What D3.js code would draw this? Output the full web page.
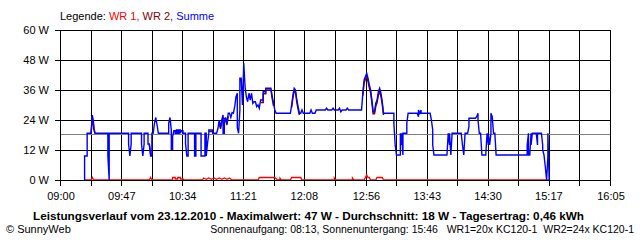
<!DOCTYPE html>
<html>
<head>
<meta charset="utf-8">
<script src="https://cdn.jsdelivr.net/npm/d3@7"></script>
<style>
	body { margin: 0; background: #fff; }
	svg { display: block; font-family: "Liberation Sans", Arial, sans-serif; font-size: 11px; }
</style>
</head>
<body>
<div id="chart"></div>
<script>
// Werte (Uhrzeit, Watt)
const zeitraum = ["09:00", "16:05"];
const zeitLabels = ["09:00", "09:47", "10:34", "11:21", "12:08", "12:56", "13:43", "14:30", "15:17", "16:05"];
const wattTicks = [0, 12, 24, 36, 48, 60];
const durchschnitt = 18;

const summe = [
	["09:19",0],["09:19",9.6],["09:21",9.6],["09:21",18.7],["09:24",18.7],["09:25",26],["09:26",22.5],["09:26",20.5],["09:27",18.7],
	["09:37",18.7],["09:37",9.6],["09:38",0],["09:38",18.7],
	["09:53",18.7],["09:53",14.4],["09:54",9.6],["09:55",14.4],["09:55",18.7],
	["10:03",18.7],["10:03",14.4],["10:04",9.6],["10:05",14.4],["10:05",18.7],
	["10:08",18.7],["10:08",14.4],["10:09",14.4],["10:10",9.6],["10:11",9.6],["10:11",18.7],
	["10:12",18.7],["10:13",22.7],["10:14",25],["10:15",22],["10:16",18.7],
	["10:24",18.7],["10:24",22.7],["10:25",25],["10:26",20],["10:26",12.3],["10:27",12.3],["10:27",17.3],["10:28",19.7],
	["10:29",19.7],["10:29",18.7],["10:30",18.7],["10:30",20],["10:31",20],["10:31",18.7],["10:32",18.7],["10:32",20],["10:33",20],["10:33",18.7],["10:34",19.7],["10:35",19.7],["10:35",18.7],
	["10:37",18.7],["10:37",14.7],["10:38",9.6],["10:39",9.6],["10:39",18.7],
	["10:44",18.7],["10:44",9.6],["10:45",9.6],["10:45",18.7],
	["10:49",18.7],["10:49",9.6],["10:52",9.6],["10:52",18.7],["10:53",18.7],["10:53",9.6],["10:54",14.7],["10:55",18.7],["10:55",20],["10:58",20],["10:58",18.7],
	["11:01",18.7],["11:02",20.5],["11:03",24],["11:04",21],["11:05",24],["11:06",26],["11:06",18.7],["11:07",18.7],["11:07",23],["11:08",25],["11:09",22.5],["11:10",26.7],["11:11",26.7],["11:12",25],["11:13",27],["11:14",26.7],
	["11:15",29.3],["11:16",33.3],["11:17",34.7],["11:17",21],["11:18",18.7],["11:19",28],["11:19",40.7],["11:20",40.7],["11:21",30],["11:22",46.7],["11:23",37.3],["11:24",33.3],["11:25",31.3],["11:26",34.7],["11:27",32],["11:28",34.7],["11:29",30.7],["11:30",31.3],["11:31",31.3],["11:32",29.3],["11:33",30],["11:34",28.7],["11:35",32],["11:37",32],["11:37",35.3],["11:39",35.3],["11:39",36.7],["11:43",36.7],["11:44",33.3],["11:45",30.7],["11:46",28],["11:47",26.7],
	["11:58",26.7],["11:59",30],["12:00",34],["12:01",36.7],["12:02",36],["12:03",32],["12:04",29.3],["12:05",26.7],["12:06",26.7],["12:07",28],["12:08",26.7],["12:13",26.7],["12:14",28],["12:15",26.7],["12:17",26.7],["12:18",28],
	["12:25",28],["12:26",28.7],["12:27",28],["12:30",28],["12:31",28.7],["12:32",28],["12:35",28],["12:36",28.7],["12:37",27.3],["12:38",28],["12:41",28],["12:42",28.7],["12:43",28],["12:53",28],
	["12:54",34.7],["12:55",40],["12:57",42.7],["12:58",40.7],["12:59",38],["13:00",36],["13:01",32],["13:02",27.3],["13:03",27.3],["13:04",30.7],["13:05",32],["13:06",35.3],["13:07",36.7],["13:08",34.7],["13:09",31.3],["13:10",26.7],["13:18",26.7],
	["13:18",22.7],["13:19",14],["13:20",10],["13:23",10],["13:23",18.7],["13:24",14],["13:24",18.7],["13:25",10],["13:25",18.7],["13:28",18.7],["13:28",22.7],["13:29",26.7],["13:36",26.7],["13:37",25.3],["13:37",28],["13:38",26.7],["13:39",28],["13:39",26.7],["13:46",26.7],["13:47",24],["13:48",20],["13:48",14],["13:49",10],
	["13:59",10],["14:00",18.7],["14:01",14],["14:01",18.7],["14:02",10],["14:03",18.7],["14:10",18.7],["14:11",14],["14:12",10],["14:13",18.7],["14:15",18.7],["14:16",21.3],["14:16",24.7],["14:21",24.7],["14:22",25.3],["14:23",26.7],["14:23",24],["14:24",18.7],["14:25",18.7],["14:26",10],["14:29",10],["14:30",18.7],["14:31",14],["14:31",18.7],["14:32",14],["14:33",18.7],["14:33",26.7],["14:34",25.3],["14:35",18.7],["14:36",18.7],["14:37",10],
	["15:01",10],["15:01",14],["15:02",18.7],["15:02",10],["15:03",10],["15:04",18.7],["15:04",14],["15:05",18.7],["15:08",18.7],["15:09",14],["15:09",18.7],["15:12",18.7],["15:13",14],["15:13",12],["15:14",10],["15:15",5.3],["15:16",0],["15:17",9.3],["15:17",18.7],["15:18",0]
];

// WR 2 liegt fast ueberall unter der Summe, nur die sichtbaren Stuecke (null = Luecke)
const wr2 = [
	["09:24",18.7],["09:25",25],["09:26",21.5],["09:27",18.7], null,
	["10:09",14.4],["10:10",10.5],["10:11",10.5], null,
	["10:55",19.4],["10:58",19.4], null,
	["11:03",23],["11:04",20.5],["11:05",23],["11:06",25],["11:08",24],["11:09",22],["11:10",25.5], null,
	["11:35",31],["11:37",31],["11:37",34.5],["11:39",34.5],["11:39",36],["11:43",36],["11:44",32.5],["11:45",29.7], null,
	["11:59",29],["12:00",33],["12:01",35.7],["12:02",35],["12:03",31],["12:04",28.3],["12:05",26], null,
	["12:54",33.7],["12:55",39],["12:57",41.5],["12:58",39.5],["12:59",37],["13:00",35],["13:01",31],["13:02",26.5],["13:03",26.5],["13:04",29.5],["13:05",31],["13:06",34],["13:07",35.5],["13:08",33.5],["13:09",30.3],["13:10",26]
];

const wr1 = [
	["09:19",0],["09:24",0],["09:25",1],["09:26",0],["10:09",0],["10:10",1],["10:11",0],
	["10:27",0],["10:27",1],["10:29",1],["10:29",0.4],["10:31",0.4],["10:31",1],["10:33",1],["10:33",0.4],["10:35",0.4],["10:36",0],
	["10:50",0],["10:51",0.8],["10:53",0.3],["10:55",0.8],["10:57",0.3],["10:59",0.8],["11:01",0.3],["11:03",0.8],["11:05",0.3],["11:07",0.8],["11:09",0.3],["11:11",0.8],["11:13",0],
	["11:33",0],["11:34",1],["11:46",1],["11:47",0.5],["11:48",0],["11:50",0],["11:50",0.7],["11:51",0],
	["11:58",0],["11:59",1],["12:06",1],["12:07",0],["12:32",0],["12:32",0.8],["12:33",0],["12:46",0],["12:46",0.8],["12:47",0],
	["12:55",0],["12:56",1],["12:57",2],["12:58",1],["12:59",1],["13:00",0],["13:04",0],["13:05",1],["13:09",1],["13:10",0],["15:18",0]
];

const legende = [["WR 1, ", "wr1"], ["WR 2, ", "wr2"], ["Summe", "summe"]];
const titel = "Leistungsverlauf vom 23.12.2010 - Maximalwert: 47 W - Durchschnitt: 18 W - Tagesertrag: 0,46 kWh";
const fussLinks = "\u00A9 SunnyWeb";
const fussRechts = "Sonnenaufgang: 08:13, Sonnenuntergang: 15:46\u00A0\u00A0\u00A0WR1=20x KC120-1\u00A0\u00A0WR2=24x KC120-1";

const farben = { wr1: "#ff0000", wr2: "#800000", summe: "#0000ff" };

const width = 640, height = 240;
const plot = { left: 60, right: 610, top: 30, bottom: 180 };

const parse = d3.timeParse("%H:%M");

const svg = d3.select("#chart").append("svg")
	.attr("width", width)
	.attr("height", height);

const x = d3.scaleTime()
	.domain(zeitraum.map(parse))
	.range([plot.left, plot.right]);

const y = d3.scaleLinear()
	.domain([0, 60])
	.range([plot.bottom, plot.top]);

// 18 Gitterlinien-Abschnitte, jede zweite beschriftet
const [t0, t1] = x.domain();
const gitterZeiten = d3.range(19).map(i => new Date(+t0 + i * (t1 - t0) / 18));

const grid = svg.append("g").attr("shape-rendering", "crispEdges");

grid.selectAll(".v")
	.data(gitterZeiten)
	.enter().append("line")
		.attr("x1", d => Math.round(x(d)) + 0.5)
		.attr("x2", d => Math.round(x(d)) + 0.5)
		.attr("y1", plot.top)
		.attr("y2", plot.bottom + 6)
		.attr("stroke", "#000");

grid.selectAll(".h")
	.data(wattTicks)
	.enter().append("line")
		.attr("x1", plot.left - 5)
		.attr("x2", plot.right + 1)
		.attr("y1", d => y(d) + 0.5)
		.attr("y2", d => y(d) + 0.5)
		.attr("stroke", "#000");

// Durchschnittslinie
svg.append("line")
	.attr("x1", plot.left + 1)
	.attr("x2", plot.right)
	.attr("y1", Math.round(y(durchschnitt)) - 0.5)
	.attr("y2", Math.round(y(durchschnitt)) - 0.5)
	.attr("stroke", "#808080")
	.attr("shape-rendering", "crispEdges");

const line = d3.line()
	.defined(d => d !== null)
	.x(d => x(parse(d[0])))
	.y(d => y(d[1]));

function kurve(data, farbe, breite){
	svg.append("path")
		.datum(data)
		.attr("d", line)
		.attr("fill", "none")
		.attr("stroke", farbe)
		.attr("stroke-width", breite)
		.attr("stroke-linejoin", "miter");
}

kurve(wr1, farben.wr1, 1.3);
kurve(wr2, farben.wr2, 1.5);
kurve(summe, farben.summe, 1.4);

// Nulllinie wieder ueber die Kurven
svg.append("line")
	.attr("x1", plot.left - 5)
	.attr("x2", plot.right + 1)
	.attr("y1", y(0) + 0.5)
	.attr("y2", y(0) + 0.5)
	.attr("stroke", "#000")
	.attr("shape-rendering", "crispEdges");

// Achsenbeschriftung
svg.append("g").selectAll("text")
	.data(wattTicks)
	.enter().append("text")
		.attr("x", plot.left - 11)
		.attr("y", d => y(d) + 4)
		.attr("text-anchor", "end")
		.text(d => d + " W");

svg.append("g").selectAll("text")
	.data(zeitLabels)
	.enter().append("text")
		.attr("x", d => x(parse(d)) + 1)
		.attr("y", 200)
		.attr("text-anchor", "middle")
		.text(d => d);

// Legende
const leg = svg.append("text")
	.attr("x", plot.left)
	.attr("y", 20);
leg.append("tspan").text("Legende: ");
legende.forEach(([label, key]) => {
	leg.append("tspan").attr("fill", farben[key]).text(label);
});

svg.append("text")
	.attr("x", 33)
	.attr("y", 220)
	.attr("font-weight", "bold")
	.attr("textLength", 551)
	.attr("lengthAdjust", "spacingAndGlyphs")
	.text(titel);

svg.append("text")
	.attr("x", 6)
	.attr("y", 233)
	.text(fussLinks);

svg.append("text")
	.attr("x", 634)
	.attr("y", 233)
	.attr("text-anchor", "end")
	.attr("font-size", "10.5px")
	.text(fussRechts);
</script>
</body>
</html>
